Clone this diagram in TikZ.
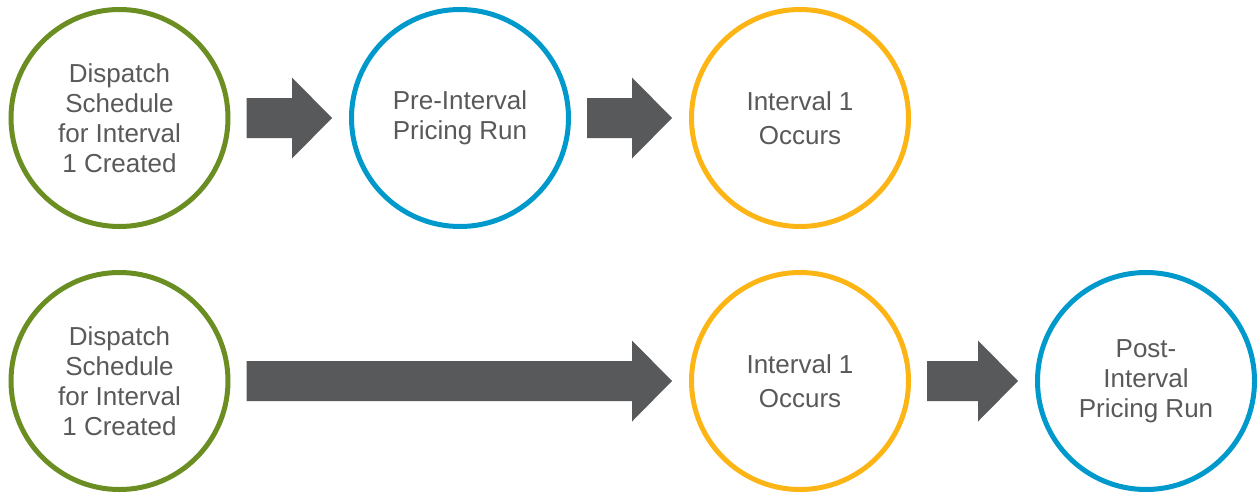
\documentclass[tikz,border=0pt]{standalone}
\usepackage{fontspec}
\setmainfont{Liberation Sans}
\usetikzlibrary{calc}
\definecolor{cgreen}{RGB}{107,142,35}
\definecolor{cblue}{RGB}{0,153,204}
\definecolor{cyellow}{RGB}{253,180,21}
\definecolor{carrow}{RGB}{88,89,91}
\definecolor{ctext}{RGB}{89,89,89}
\tikzset{
  stage/.style={circle, draw=#1, line width=5pt, minimum size=217pt, inner sep=0pt,
    align=center, text=ctext, font=\fontsize{26}{30}\selectfont},
  stagewide/.style={stage=#1, font=\fontsize{26}{34}\selectfont},
}
\newcommand{\blockarr}[2]{%
  \path let \p1=(#1.east), \p2=(#2.west) in
    [fill=carrow] (\x1+16pt,\y1+20pt) -- (\x2-57pt,\y1+20pt) -- (\x2-57pt,\y1+40.5pt)
    -- (\x2-17pt,\y1) -- (\x2-57pt,\y1-40.5pt) -- (\x2-57pt,\y1-20pt)
    -- (\x1+16pt,\y1-20pt) -- cycle;}
\begin{document}
\begin{tikzpicture}[x=1pt,y=-1pt]
\useasboundingbox (0,0) rectangle (1257,493);
% top row
\node[stage=cgreen] (t1) at (119.5,118) {Dispatch\\Schedule\\for Interval\\1 Created};
\node[stage=cblue] (t2) at (460,118) {Pre-Interval\\Pricing Run};
\node[stagewide=cyellow] (t3) at (800,118) {Interval 1\\Occurs};
\blockarr{t1}{t2}
\blockarr{t2}{t3}
% bottom row
\node[stage=cgreen] (b1) at (119.5,381) {Dispatch\\Schedule\\for Interval\\1 Created};
\node[stagewide=cyellow] (b2) at (800,381) {Interval 1\\Occurs};
\node[stage=cblue] (b3) at (1146,381) {Post-\\Interval\\Pricing Run};
\blockarr{b1}{b2}
\blockarr{b2}{b3}
\end{tikzpicture}
\end{document}
